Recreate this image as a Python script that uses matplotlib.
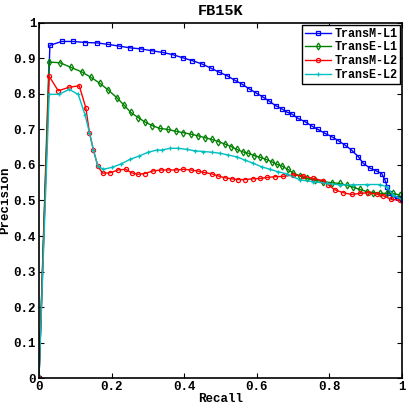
#!/usr/bin/env python3
import matplotlib
matplotlib.use('Agg')
import matplotlib.pyplot as plt

# values
transm_l1_x = [0, 0.030, 0.0625, 0.0945, 0.127, 0.159, 0.189, 0.220, 0.251, 0.281, 0.310,
               0.341, 0.368, 0.396, 0.422, 0.448, 0.473, 0.495, 0.517, 0.539, 0.559, 0.578,
               0.598, 0.616, 0.634, 0.652, 0.669, 0.683, 0.696, 0.714, 0.733, 0.751, 0.769,
               0.788, 0.806, 0.825, 0.843, 0.861, 0.880, 0.893, 0.912, 0.928, 0.944, 0.953,
               0.960, 0.965, 0.976, 0.990, 1.0]
transm_l1_y = [0, 0.937, 0.948, 0.948, 0.945, 0.944, 0.940, 0.935, 0.930, 0.927, 0.922,
               0.917, 0.911, 0.902, 0.894, 0.885, 0.873, 0.862, 0.852, 0.839, 0.828, 0.815,
               0.803, 0.792, 0.780, 0.767, 0.758, 0.749, 0.744, 0.731, 0.722, 0.710, 0.700,
               0.689, 0.680, 0.668, 0.656, 0.642, 0.623, 0.605, 0.591, 0.584, 0.576, 0.558,
               0.537, 0.522, 0.511, 0.506, 0.500]

transe_l1_x = [0, 0.0275, 0.058, 0.088, 0.118, 0.143, 0.168, 0.191, 0.214, 0.234, 0.253,
               0.274, 0.292, 0.312, 0.333, 0.356, 0.377, 0.398, 0.418, 0.439, 0.457, 0.476,
               0.494, 0.512, 0.529, 0.545, 0.561, 0.577, 0.593, 0.609, 0.625, 0.641, 0.655,
               0.669, 0.685, 0.701, 0.719, 0.737, 0.760, 0.783, 0.806, 0.829, 0.848, 0.866,
               0.885, 0.903, 0.921, 0.939, 0.958, 0.976, 0.994]
transe_l1_y = [0, 0.890, 0.888, 0.875, 0.862, 0.847, 0.830, 0.811, 0.790, 0.769, 0.748,
               0.733, 0.721, 0.711, 0.703, 0.700, 0.695, 0.691, 0.687, 0.682, 0.677, 0.672,
               0.666, 0.659, 0.652, 0.644, 0.637, 0.633, 0.626, 0.622, 0.616, 0.609, 0.602,
               0.597, 0.588, 0.577, 0.569, 0.562, 0.557, 0.553, 0.550, 0.548, 0.543, 0.537,
               0.531, 0.525, 0.522, 0.520, 0.520, 0.520, 0.515]

transm_l2_x = [0, 0.028, 0.053, 0.083, 0.111, 0.129, 0.139, 0.150, 0.162, 0.175, 0.196,
               0.218, 0.239, 0.255, 0.272, 0.292, 0.313, 0.336, 0.356, 0.377, 0.398, 0.418,
               0.437, 0.455, 0.476, 0.494, 0.512, 0.531, 0.549, 0.567, 0.589, 0.609, 0.629,
               0.650, 0.673, 0.701, 0.728, 0.756, 0.783, 0.797, 0.815, 0.838, 0.861, 0.884,
               0.907, 0.930, 0.949, 0.971, 0.994]
transm_l2_y = [0, 0.850, 0.809, 0.819, 0.823, 0.761, 0.691, 0.642, 0.597, 0.577, 0.578,
               0.586, 0.588, 0.578, 0.574, 0.576, 0.583, 0.586, 0.586, 0.586, 0.588, 0.586,
               0.583, 0.579, 0.575, 0.569, 0.564, 0.561, 0.559, 0.559, 0.561, 0.562, 0.565,
               0.567, 0.568, 0.572, 0.569, 0.562, 0.556, 0.544, 0.530, 0.522, 0.517, 0.520,
               0.522, 0.518, 0.513, 0.503, 0.501]

transe_l2_x = [0, 0.028, 0.055, 0.083, 0.108, 0.127, 0.139, 0.150, 0.162, 0.177, 0.200,
               0.226, 0.251, 0.275, 0.301, 0.324, 0.338, 0.361, 0.384, 0.407, 0.430, 0.453,
               0.476, 0.499, 0.522, 0.545, 0.567, 0.590, 0.613, 0.636, 0.659, 0.682, 0.719,
               0.756, 0.793, 0.829, 0.866, 0.903, 0.939, 0.958, 0.976, 0.999]
transe_l2_y = [0, 0.799, 0.799, 0.813, 0.799, 0.741, 0.691, 0.642, 0.597, 0.588, 0.593,
               0.603, 0.616, 0.625, 0.636, 0.642, 0.642, 0.647, 0.647, 0.644, 0.640, 0.638,
               0.636, 0.633, 0.628, 0.623, 0.614, 0.605, 0.595, 0.588, 0.581, 0.575, 0.558,
               0.553, 0.548, 0.544, 0.544, 0.545, 0.545, 0.539, 0.515, 0.503]

ticks = [0, 0.1, 0.2, 0.3, 0.4, 0.5, 0.6, 0.7, 0.8, 0.9, 1]
tick_labels = ['0', '0.1', '0.2', '0.3', '0.4', '0.5', '0.6', '0.7', '0.8', '0.9', '1']
xticks = [0, 0.2, 0.4, 0.6, 0.8, 1]
xtick_labels = ['0', '0.2', '0.4', '0.6', '0.8', '1']

plt.rcParams['font.family'] = ['Liberation Mono', 'DejaVu Sans Mono']
plt.rcParams['font.weight'] = 'bold'

fig = plt.figure(figsize=(4.1, 4.12), dpi=100)
ax = fig.add_axes([0.0951, 0.0825, 0.8854, 0.8617])

def plotline(x, y, mark, c, label, ms=3.0):
    ax.plot(x, y, marker=mark, color=c, label=label, lw=1.0, ms=ms,
            markerfacecolor='none', markeredgewidth=0.9)

plotline(transm_l1_x, transm_l1_y, 's', '#0000ff', 'TransM-L1')
plotline(transe_l1_x, transe_l1_y, 'd', '#008000', 'TransE-L1', ms=3.5)
plotline(transm_l2_x, transm_l2_y, 'o', '#ff0000', 'TransM-L2')
plotline(transe_l2_x, transe_l2_y, '+', '#00bfbf', 'TransE-L2', ms=3.5)

ax.set_xlim(0, 1)
ax.set_ylim(0, 1)
ax.set_xticks(xticks)
ax.set_xticklabels(xtick_labels)
ax.set_yticks(ticks)
ax.set_yticklabels(tick_labels)
ax.tick_params(direction='in', length=3.5, width=0.8, top=True, right=True,
               labelsize=9, pad=2)
for s in ax.spines.values():
    s.set_linewidth(1.2)

ax.set_xlabel('Recall', fontsize=9, fontweight='bold', labelpad=0)
ax.set_ylabel('Precision', fontsize=9, fontweight='bold', labelpad=2)
ax.set_title('FB15K', fontsize=11, fontweight='bold', pad=6)

leg = ax.legend(loc='upper right', fontsize=8.5, handlelength=2.2, handletextpad=0.3,
                borderpad=0.25, labelspacing=0.15, borderaxespad=0.15, fancybox=False,
                framealpha=1)
leg.get_frame().set_edgecolor('black')
leg.get_frame().set_linewidth(1.0)

plt.savefig('out.png', dpi=100)
